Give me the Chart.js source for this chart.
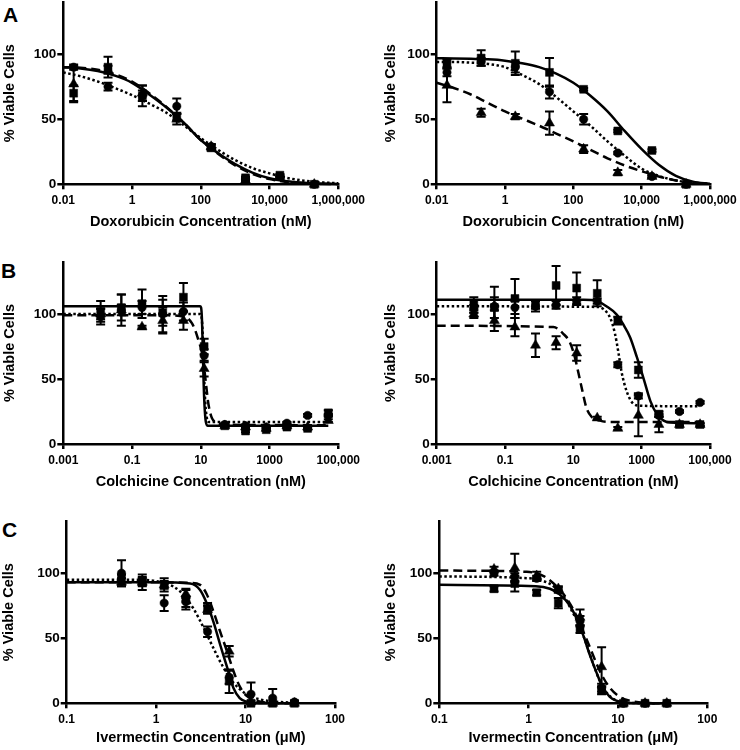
<!DOCTYPE html>
<html><head><meta charset="utf-8">
<script src="https://cdn.jsdelivr.net/npm/chart.js@4.4.1/dist/chart.umd.min.js"></script>
<style>
html,body{margin:0;padding:0;background:#fff;overflow:hidden;}
#fig{position:relative;width:740px;height:750px;overflow:hidden;background:#fff;}
#fig canvas{position:absolute;}
.lbl{position:absolute;font-family:"Liberation Sans",Arial,sans-serif;font-weight:bold;font-size:21px;line-height:21px;color:#000;}
</style></head><body>
<div id="fig">
<div class="lbl" style="left:3px;top:4px">A</div>
<div class="lbl" style="left:1px;top:260px">B</div>
<div class="lbl" style="left:2px;top:519px">C</div>
</div>
<script>
// ---------- tick labels ----------
const yTicks = [0, 50, 100];
const doxoTicks = [0.01, 1, 100, 10000, 1000000];
const doxoTickLabels = ['0.01', '1', '100', '10,000', '1,000,000'];
const colchTicks = [0.001, 0.1, 10, 1000, 100000];
const colchTickLabels = ['0.001', '0.1', '10', '1000', '100,000'];
const iverTicks = [0.1, 1, 10, 100];
const iverTickLabels = ['0.1', '1', '10', '100'];

// ---------- doses ----------
const doxoDoses = [0.02, 0.2, 2, 20, 200, 2000, 20000, 200000];
const colchDoses = [0.0122, 0.0488, 0.195, 0.781, 3.125, 12.5, 50, 200, 800, 3200, 12800, 51200];
const iverDoses = [0.41, 0.7, 1.23, 2.15, 3.76, 6.56, 11.5, 20.1, 35.2];

// ---------- A left (doxorubicin) ----------
const aL_sq = [70, 90, 68, 52, 28, 5, 7, 0];
const aL_sqErr = [6, 8, 8, 3, 2, 1, 1, 0];
const aL_ci = [90, 75, 68, 60, 29, 4, 6, 0];
const aL_ciErr = [2, 3, 4, 6, 2, 1, 1, 0];
const aL_tr = [77, 88, 70, 50, 29, 3, 5, 0];
const aL_trErr = [14, 3, 6, 4, 2, 1, 1, 0];
const doxoCurveX = [0.01, 0.0316, 0.1, 0.316, 1, 3.16, 10, 31.6, 100, 316, 1000, 3162, 10000, 31623, 100000, 316228, 1000000];
const aL_solidY = [90, 89, 87, 83.5, 78, 69, 59, 47.5, 34, 24, 15.5, 9, 4.6, 2.3, 1.2, 0.6, 0.3];
const aL_dotY = [86, 83, 79, 74, 68.5, 62, 55, 45.5, 35.5, 26.5, 18.6, 12.5, 8.4, 5, 2.8, 1.5, 0.8];
const aL_dashY = [90, 89.5, 88, 84.5, 79, 70, 59.5, 47.5, 34, 23.5, 14.5, 8, 4, 1.8, 0.9, 0.4, 0.2];

// ---------- A right ----------
const aR_sq = [93, 97, 93, 86, 73, 41, 26, 0];
const aR_sqErr = [3, 6, 9, 11, 1, 1, 1, 0];
const aR_ci = [86, 94, 90, 71, 50, 24, 6, 0];
const aR_ciErr = [3, 3, 4, 5, 4, 1, 1, 0];
const aR_tr = [76, 55, 52, 47, 27, 9, 6, 0];
const aR_trErr = [13, 3, 2, 9, 3, 2, 1, 0];
const aR_solidY = [96.8, 96.7, 96.4, 96, 95, 93, 90, 85, 78, 68, 56, 41, 27, 15, 6.5, 2, 0.3];
const aR_dotY = [94, 94, 93.5, 92.5, 90, 84, 77, 67, 56, 45, 33, 22, 12, 6.5, 3, 1.2, 0.5];
const aR_dashY = [78, 74, 69, 62.5, 56, 50.5, 45, 39, 33, 26.5, 20, 14.5, 10, 6, 3, 1.3, 0.5];

// ---------- B left (colchicine) ----------
const bL_sq = [102, 105, 108, 101, 113, 75, 14, 10, 11, 13, 12, 24];
const bL_sqErr = [8, 10, 11, 10, 11, 6, 1, 1, 1, 1, 1, 2];
const bL_ci = [98, 103, 105, 100, 102, 68, 15, 14, 13, 16, 22, 22];
const bL_ciErr = [6, 12, 5, 14, 7, 5, 1, 1, 1, 1, 1, 1];
const bL_tr = [100, 103, 90, 95, 95, 58, 14, 13, 12, 14, 13, 18];
const bL_trErr = [4, 4, 1, 10, 7, 6, 1, 1, 1, 1, 1, 1];
const bL_solidX = [0.001, 9.5, 10.2, 10.8, 11.4, 12, 12.8, 14, 16, 51200];
const bL_solidY = [106, 106, 105, 96, 75, 50, 30, 17, 14, 14];
const bL_dotX = [0.001, 9.5, 10.3, 11, 11.7, 12.5, 13.5, 15, 17, 51200];
const bL_dotY = [100, 100, 99, 92, 75, 52, 32, 20, 17, 17];
const bL_dashX = [0.001, 1, 2.5, 4, 5.5, 7, 8.5, 10, 11.5, 13, 14.5, 16, 18, 21, 26, 35, 60, 51200];
const bL_dashY = [99, 99, 98.5, 97, 93, 87, 80, 74, 66, 55, 44, 34, 26, 20, 17, 15.5, 14.8, 14.5];

// ---------- B right ----------
const bR_sq = [107, 105, 112, 107, 122, 120, 116, 95, 57, 23, 15, 15];
const bR_sqErr = [6, 8, 15, 3, 15, 12, 10, 3, 6, 2, 1, 1];
const bR_ci = [104, 106, 105, 106, 107, 110, 110, 61, 37, 22, 25, 32];
const bR_ciErr = [3, 15, 5, 4, 3, 3, 2, 2, 2, 1, 1, 1];
const bR_tr = [100, 95, 90, 76, 78, 70, 20, 12, 22, 15, 15, 15];
const bR_trErr = [3, 8, 7, 9, 5, 6, 1, 1, 16, 6, 1, 1];
const bR_solidX = [0.001, 20, 50, 93, 180, 290, 460, 720, 1150, 1800, 2800, 4400, 7000, 51200];
const bR_solidY = [111, 111, 110, 106, 100, 92, 82, 67, 50, 33, 23, 18, 16.5, 16];
const bR_dotX = [0.001, 50, 75, 120, 165, 210, 260, 370, 570, 900, 51200];
const bR_dotY = [106, 105.5, 104, 97, 85, 70, 55, 40, 31, 29.5, 29];
const bR_dashX = [0.001, 2.6, 5, 8, 11, 14, 18, 24, 34, 60, 120, 51200];
const bR_dashY = [91, 90, 85, 78, 67, 55, 42, 28, 21, 18, 17, 17];

// ---------- C left (ivermectin) ----------
const cL_sq = [96, 93, 91, 80, 73, 17, 0, 0, 0];
const cL_sqErr = [3, 6, 3, 8, 4, 9, 0, 0, 0];
const cL_ci = [100, 94, 77, 78, 55, 20, 7, 4, 1];
const cL_ciErr = [10, 3, 6, 4, 4, 5, 9, 7, 1];
const cL_tr = [93, 93, 91, 84, 72, 40, 1, 0, 0];
const cL_trErr = [3, 3, 5, 3, 3, 4, 1, 0, 0];
const cL_solidX = [0.1, 1, 2.4, 3.1, 3.67, 4.4, 5.2, 6.2, 7.3, 8.6, 10.5, 13, 20, 35.2];
const cL_solidY = [93, 93, 92, 87, 77, 62, 45, 28, 12, 4, 1, 0.3, 0, 0];
const cL_dotX = [0.1, 0.5, 1.3, 1.85, 2.6, 3.4, 4.4, 5.6, 7.3, 10.2, 14.5, 24, 35.2];
const cL_dotY = [95, 95, 92, 86, 73, 58, 42, 28, 16, 7, 3, 1, 0.5];
const cL_dashX = [0.1, 1, 2.4, 3.1, 3.67, 4.4, 5.2, 6.2, 7.3, 8.6, 10.2, 13.4, 17, 35.2];
const cL_dashY = [93, 93, 92.5, 91, 84, 70, 55, 40, 25, 13, 6, 2, 0.5, 0];

// ---------- C right ----------
const cR_sq = [88, 92, 85, 77, 57, 10, 0, 0, 0];
const cR_sqErr = [2, 6, 2, 4, 3, 3, 0, 0, 0];
const cR_ci = [100, 97, 96, 87, 63, 12, 0, 0, 0];
const cR_ciErr = [2, 3, 2, 2, 4, 3, 0, 0, 0];
const cR_tr = [103, 104, 98, 88, 66, 28, 0, 0, 0];
const cR_trErr = [2, 11, 3, 2, 6, 15, 0, 0, 0];
const cR_solidX = [0.1, 1.2, 1.73, 2.2, 2.9, 3.45, 4.1, 4.85, 5.8, 6.8, 8.1, 9.6, 11.5, 35.2];
const cR_solidY = [91, 90, 88, 84, 75, 65, 52, 37, 23, 12, 5, 2, 0.5, 0];
const cR_dotX = [0.1, 1.03, 1.45, 1.9, 2.5, 3.1, 3.7, 4.45, 5.3, 6.3, 7.5, 9.6, 13.5, 35.2];
const cR_dotY = [97.5, 96, 94, 90, 82, 70, 60, 45, 30, 17, 8, 2, 0.3, 0];
const cR_dashX = [0.1, 0.95, 1.45, 2.05, 2.7, 3.45, 4.1, 4.85, 5.8, 6.8, 8.1, 10.4, 14.7, 21, 35.2];
const cR_dashY = [102, 101, 98, 90, 80, 67, 55, 43, 30, 20, 12, 5, 1.5, 0.3, 0];

const yTitle = '% Viable Cells';

// ---------- rendering ----------
const FONT = '"Liberation Sans", Arial, Helvetica, sans-serif';
const TITLE_SIZE = 14.5, LH = 1.2;
const zip = (xs, ys) => xs.map((x, i) => ({x: x, y: ys[i]}));

const errorBars = {
  id: 'errorBars',
  beforeDatasetsDraw(chart) {
    const {ctx, chartArea: a, scales: {x, y}} = chart;
    ctx.save();
    ctx.beginPath(); ctx.rect(a.left, a.top - 20, a.right - a.left + 10, a.bottom - a.top + 20); ctx.clip();
    ctx.strokeStyle = '#000'; ctx.lineWidth = 2;
    chart.data.datasets.forEach(ds => {
      if (!ds.errors) return;
      ds.data.forEach((pt, j) => {
        const e = ds.errors[j]; if (!e) return;
        const px = x.getPixelForValue(pt.x);
        const yh = y.getPixelForValue(pt.y + e), yl = y.getPixelForValue(pt.y - e);
        ctx.beginPath();
        ctx.moveTo(px, yh); ctx.lineTo(px, yl);
        ctx.moveTo(px - 4.5, yh); ctx.lineTo(px + 4.5, yh);
        ctx.moveTo(px - 4.5, yl); ctx.lineTo(px + 4.5, yl);
        ctx.stroke();
      });
    });
    ctx.restore();
  }
};

const marks = [
  {style: 'rect', r: 5.6, dash: []},
  {style: 'circle', r: 4.2, dash: [2.5, 2.5]},
  {style: 'triangle', r: 5.8, dash: [9, 5]}
];

function makePanel(p) {
  const fig = document.getElementById('fig');
  const c = document.createElement('canvas');
  const half = TITLE_SIZE * LH / 2;
  const xH = p.xTitleY + half - p.area.b;
  const scaleLeft = p.yTitleX - half;
  const yW = p.area.l - scaleLeft;
  const cy = Math.floor(p.area.t) - 8;
  const padTop = p.area.t - cy;
  const ch = Math.ceil(padTop + (p.area.b - p.area.t) + xH + 4);
  const padBottom = ch - padTop - (p.area.b - p.area.t) - xH;
  c.width = p.cw; c.height = ch;
  c.style.left = p.cx + 'px'; c.style.top = cy + 'px';
  c.style.width = p.cw + 'px'; c.style.height = ch + 'px';
  fig.appendChild(c);

  const datasets = [];
  p.pts.forEach((vals, k) => {
    datasets.push({
      type: 'scatter', data: zip(p.doses, vals), errors: p.errs[k],
      pointStyle: marks[k].style, pointRadius: marks[k].r, pointHoverRadius: marks[k].r,
      backgroundColor: '#000', borderColor: '#000', pointBorderWidth: 0.5,
      showLine: false, clip: false
    });
  });
  p.curves.forEach((cv, k) => {
    datasets.push({
      type: 'line', data: zip(cv[0], cv[1]), showLine: true, fill: false,
      borderColor: '#000', borderWidth: 2.5, borderDash: marks[k].dash, borderCapStyle: 'butt',
      pointRadius: 0, pointHoverRadius: 0, cubicInterpolationMode: 'monotone', clip: false
    });
  });

  const tickFontX = {family: FONT, size: 12, weight: 'bold'};
  const tickFontY = {family: FONT, size: 13.5, weight: 'bold'};
  const titleFont = {family: FONT, size: TITLE_SIZE, weight: 'bold', lineHeight: LH};

  new Chart(c, {
    type: 'scatter',
    data: {datasets},
    plugins: [errorBars],
    options: {
      responsive: false, animation: false, devicePixelRatio: 1, events: [],
      layout: {padding: {left: scaleLeft - p.cx, top: padTop, right: p.cx + p.cw - p.area.r, bottom: padBottom}},
      plugins: {legend: {display: false}, tooltip: {enabled: false}},
      scales: {
        x: {
          type: 'logarithmic', position: 'bottom', min: p.xMin, max: p.xMax,
          afterBuildTicks: s => { s.ticks = p.xTicks.map(v => ({value: v})); },
          afterFit: s => { s.height = xH; },
          ticks: {autoSkip: false, maxRotation: 0, minRotation: 0, padding: 4, color: '#000', font: tickFontX,
                  callback: (v, i) => p.xLabels[i]},
          grid: {display: true, drawOnChartArea: false, drawTicks: true, tickLength: 5, tickWidth: 2.5, tickColor: '#000', color: '#000', lineWidth: 2.5},
          border: {display: true, color: '#000', width: 2.5},
          title: {display: true, text: p.xTitle, color: '#000', font: titleFont, padding: 0}
        },
        y: {
          type: 'linear', position: 'left', min: 0, max: 140,
          afterBuildTicks: s => { s.ticks = yTicks.map(v => ({value: v})); },
          afterFit: s => { s.width = yW; },
          ticks: {padding: 1, color: '#000', font: tickFontY, callback: v => String(v)},
          grid: {display: true, drawOnChartArea: false, drawTicks: true, tickLength: 6, tickWidth: 2.5, tickColor: '#000', color: '#000', lineWidth: 2.5},
          border: {display: true, color: '#000', width: 2.5},
          title: {display: true, text: yTitle, color: '#000', font: titleFont, padding: 0}
        }
      }
    }
  });
}

const doxoTitle = 'Doxorubicin Concentration (nM)';
const colchTitle = 'Colchicine Concentration (nM)';
const iverTitle = 'Ivermectin Concentration (\u03BCM)';

const panels = [
  {cx: 0, cw: 400, area: {l: 63.3, t: 1, r: 338.3, b: 184.3}, yTitleX: 10, xTitleY: 222,
   xMin: 0.01, xMax: 1000000, xTicks: doxoTicks, xLabels: doxoTickLabels, xTitle: doxoTitle, doses: doxoDoses,
   pts: [aL_sq, aL_ci, aL_tr], errs: [aL_sqErr, aL_ciErr, aL_trErr],
   curves: [[doxoCurveX, aL_solidY], [doxoCurveX, aL_dotY], [doxoCurveX, aL_dashY]]},
  {cx: 370, cw: 410, area: {l: 436.7, t: 1, r: 710, b: 184.3}, yTitleX: 391, xTitleY: 222,
   xMin: 0.01, xMax: 1000000, xTicks: doxoTicks, xLabels: doxoTickLabels, xTitle: doxoTitle, doses: doxoDoses,
   pts: [aR_sq, aR_ci, aR_tr], errs: [aR_sqErr, aR_ciErr, aR_trErr],
   curves: [[doxoCurveX, aR_solidY], [doxoCurveX, aR_dotY], [doxoCurveX, aR_dashY]]},
  {cx: 0, cw: 400, area: {l: 63.3, t: 261, r: 338.3, b: 444}, yTitleX: 9.5, xTitleY: 482,
   xMin: 0.001, xMax: 100000, xTicks: colchTicks, xLabels: colchTickLabels, xTitle: colchTitle, doses: colchDoses,
   pts: [bL_sq, bL_ci, bL_tr], errs: [bL_sqErr, bL_ciErr, bL_trErr],
   curves: [[bL_solidX, bL_solidY], [bL_dotX, bL_dotY], [bL_dashX, bL_dashY]]},
  {cx: 370, cw: 410, area: {l: 436.7, t: 261, r: 710, b: 444}, yTitleX: 391, xTitleY: 482,
   xMin: 0.001, xMax: 100000, xTicks: colchTicks, xLabels: colchTickLabels, xTitle: colchTitle, doses: colchDoses,
   pts: [bR_sq, bR_ci, bR_tr], errs: [bR_sqErr, bR_ciErr, bR_trErr],
   curves: [[bR_solidX, bR_solidY], [bR_dotX, bR_dotY], [bR_dashX, bR_dashY]]},
  {cx: 0, cw: 400, area: {l: 66.7, t: 520, r: 335, b: 703.3}, yTitleX: 9, xTitleY: 738,
   xMin: 0.1, xMax: 100, xTicks: iverTicks, xLabels: iverTickLabels, xTitle: iverTitle, doses: iverDoses,
   pts: [cL_sq, cL_ci, cL_tr], errs: [cL_sqErr, cL_ciErr, cL_trErr],
   curves: [[cL_solidX, cL_solidY], [cL_dotX, cL_dotY], [cL_dashX, cL_dashY]]},
  {cx: 370, cw: 410, area: {l: 439.3, t: 520, r: 707.3, b: 703.3}, yTitleX: 391, xTitleY: 738,
   xMin: 0.1, xMax: 100, xTicks: iverTicks, xLabels: iverTickLabels, xTitle: iverTitle, doses: iverDoses,
   pts: [cR_sq, cR_ci, cR_tr], errs: [cR_sqErr, cR_ciErr, cR_trErr],
   curves: [[cR_solidX, cR_solidY], [cR_dotX, cR_dotY], [cR_dashX, cR_dashY]]}
];
panels.forEach(makePanel);
</script>
</body></html>
